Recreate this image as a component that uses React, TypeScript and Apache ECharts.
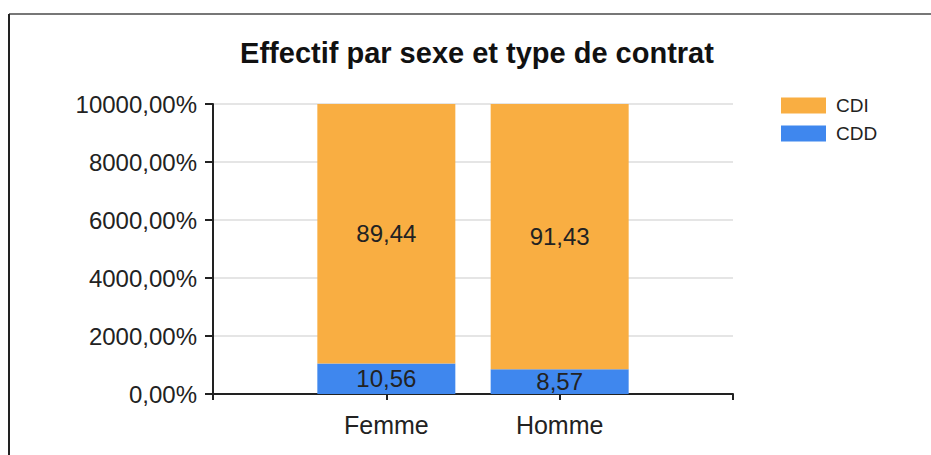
import React, { useEffect, useRef } from "react";
import * as echarts from "echarts";

const categories = ["", "Femme", "Homme", ""];
const cdiValues: (number | null)[] = [null, 89.44, 91.43, null];
const cddValues: (number | null)[] = [null, 10.56, 8.57, null];
const seriesNames = ["CDI", "CDD"];
const titleText = "Effectif par sexe et type de contrat";

const FONT = "'Liberation Sans', Arial, sans-serif";

const fmtComma = (v: number) => v.toFixed(2).replace(".", ",");

export default function App() {
  const ref = useRef<HTMLDivElement>(null);
  useEffect(() => {
    if (!ref.current) return;
    const chart = echarts.init(ref.current, undefined, { renderer: "svg" });
    const barLabel = {
      show: true,
      position: "inside",
      fontSize: 24,
      fontFamily: FONT,
      color: "#222",
      formatter: (p: any) => fmtComma(p.value),
    };
    chart.setOption({
      animation: false,
      backgroundColor: "#fff",
      textStyle: { fontFamily: FONT },
      title: {
        text: titleText,
        left: 472,
        textAlign: "center",
        top: 33,
        textStyle: { fontSize: 29, fontWeight: "bold", color: "#111", fontFamily: FONT },
      },
      legend: {
        data: seriesNames,
        orient: "vertical",
        left: 781,
        top: 96,
        padding: 0,
        itemWidth: 45,
        itemHeight: 16,
        itemGap: 9,
        icon: "rect",
        textStyle: { fontSize: 19, color: "#222", fontFamily: FONT, padding: [0, 0, 0, 5] },
      },
      grid: { left: 213, top: 104, right: 198, bottom: 61, containLabel: false },
      xAxis: {
        type: "category",
        data: categories,
        boundaryGap: false,
        axisLine: { lineStyle: { color: "#222", width: 2 } },
        axisTick: { show: true, length: 6, lineStyle: { color: "#222", width: 2 } },
        axisLabel: { fontSize: 25, color: "#222", margin: 18, fontFamily: FONT, interval: 0 },
        splitLine: { show: false },
      },
      yAxis: {
        type: "value",
        min: 0,
        max: 100,
        interval: 20,
        axisLine: { show: true, lineStyle: { color: "#222", width: 2 } },
        axisTick: { show: true, length: 8, lineStyle: { color: "#222", width: 2 } },
        axisLabel: {
          fontSize: 24,
          color: "#222",
          margin: 16,
          fontFamily: FONT,
          formatter: (v: number) => fmtComma(v * 100) + "%",
        },
        splitLine: { show: true, lineStyle: { color: "#dcdcdc", width: 1.5 } },
      },
      series: [
        {
          name: "CDD",
          type: "bar",
          stack: "total",
          data: cddValues,
          barWidth: 138,
          itemStyle: { color: "#3F87EE" },
          label: barLabel,
        },
        {
          name: "CDI",
          type: "bar",
          stack: "total",
          data: cdiValues,
          barWidth: 138,
          itemStyle: { color: "#F9AE42" },
          label: barLabel,
        },
      ],
      graphic: [
        {
          type: "line",
          shape: { x1: 9, y1: 14, x2: 931, y2: 14 },
          style: { stroke: "#777", lineWidth: 2 },
        },
        {
          type: "line",
          shape: { x1: 9, y1: 14, x2: 9, y2: 455 },
          style: { stroke: "#222", lineWidth: 2 },
        },
      ],
    });
    return () => chart.dispose();
  }, []);
  return (
    <div
      ref={ref}
      style={{ position: "fixed", left: 0, top: 0, width: 931, height: 455, background: "#fff" }}
    />
  );
}
